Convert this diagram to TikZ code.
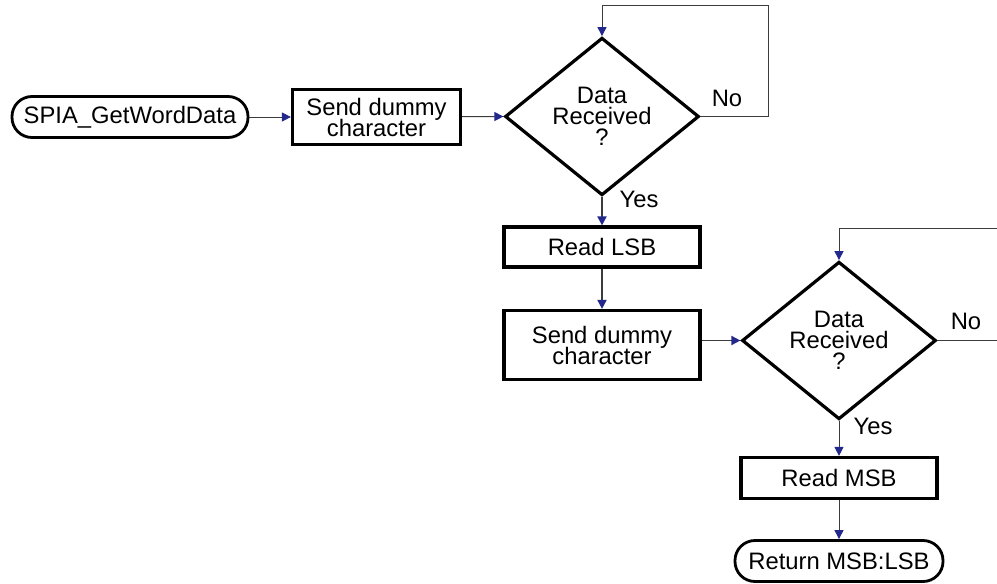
\documentclass[tikz,border=0pt]{standalone}
\usepackage{fontspec}
\setmainfont{Liberation Sans}
\usetikzlibrary{arrows.meta,shapes.geometric}
\definecolor{arrowblue}{RGB}{35,40,140}
\definecolor{linegray}{RGB}{60,60,60}
\newcommand\mynodefont{\fontsize{11.9}{10.5}\selectfont\lineskiplimit=-10pt\relax\lineskip=0pt\relax}
\begin{document}
\begin{tikzpicture}[x=0.5pt,y=-0.5pt,
  every node/.style={font=\mynodefont, align=center, inner sep=0pt},
  procbox/.style={draw=black, line width=1.6pt, rectangle, minimum width=#1},
  termbox/.style={draw=black, line width=1.4pt, rectangle, rounded corners=10pt, minimum height=20.5pt, minimum width=#1},
  decbox/.style={draw=black, line width=1.6pt, diamond, minimum width=97pt, minimum height=68pt},
  arr/.style={draw=linegray, line width=0.5pt, -{Triangle[length=4.5pt,width=4.5pt,color=arrowblue]}},
  conn/.style={draw=linegray, line width=0.5pt},
  lbl/.style={font=\fontsize{11.9}{12}\selectfont}
]
\useasboundingbox (0,0) rectangle (997,584);

\node[termbox=118pt] (t1) at (130,117) {SPIA\_GetWordData};
\node[procbox=84pt, minimum height=27.5pt] (b1) at (376.5,117) {Send dummy\\character};
\node[decbox] (d1) at (602,116.5) {Data\\Received\\?};
\node[procbox=98pt, minimum height=20pt] (r1) at (602,247) {Read LSB};
\node[procbox=98pt, minimum height=34.5pt] (s2) at (602,345) {Send dummy\\character};
\node[decbox] (d2) at (839,340.5) {Data\\Received\\?};
\node[procbox=98pt, minimum height=20.5pt] (r2) at (839,478) {Read MSB};
\node[termbox=104pt] (t2) at (839,561) {Return MSB:LSB};

\coordinate (l1) at (768,5);
\coordinate (l2) at (997,228);
\coordinate (l2r) at (997,340.5);

\draw[arr] (t1) -- (b1);
\draw[arr] (b1) -- (d1.west);
\draw[arr] (d1.east) -| (l1) -| (d1.north);
\draw[arr, line width=0.9pt] (d1.south) -- (r1.north);
\draw[arr, line width=0.9pt] (r1.south) -- (s2.north);
\draw[arr, line width=0.9pt] (d2.west -| s2.east) -- (d2.west);
\draw[conn] (d2.east) -- (l2r);
\draw[arr] (l2) -| (d2.north);
\draw[arr] (d2.south) -- (r2.north);
\draw[arr] (r2.south) -- (t2.north);

\node[lbl] (no1) at (727,98) {No};
\node[lbl] (yes1) at (639,199) {Yes};
\node[lbl] (no2) at (966,321) {No};
\node[lbl] (yes2) at (873,426) {Yes};
\end{tikzpicture}
\end{document}
